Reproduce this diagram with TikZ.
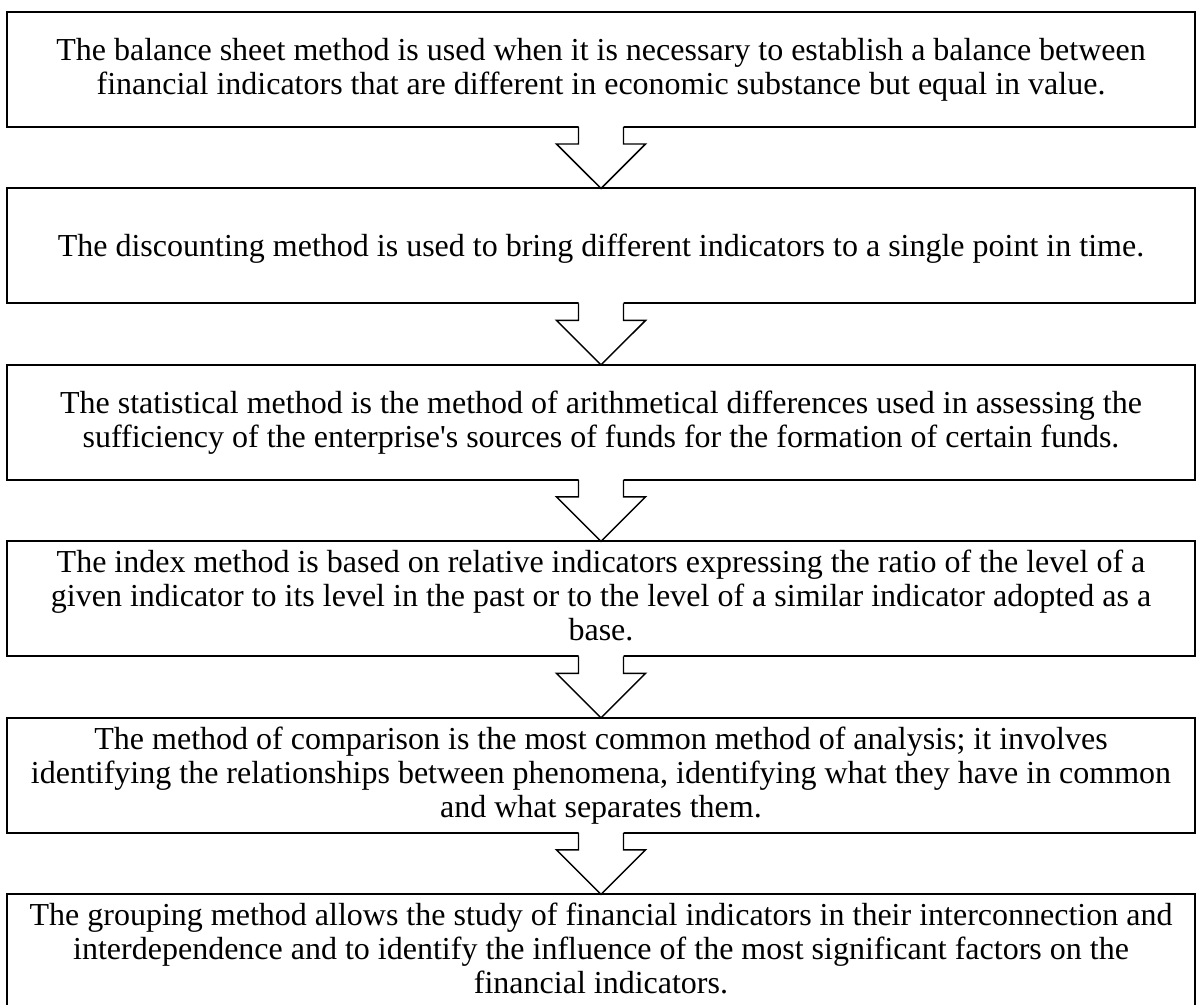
\documentclass[tikz,border=0pt]{standalone}
\usepackage{fontspec}
\setmainfont{Liberation Serif}
\usetikzlibrary{positioning,calc}

\newcommand{\methodstrut}{\rule[-0.2\baselineskip]{0pt}{\baselineskip}}
\tikzset{
  methodbox/.style={draw, line width=1.5pt, fill=white, inner sep=0pt, outer sep=0pt,
    minimum width=891pt, minimum height=86.25pt, align=center,
    font=\fontsize{24}{25.5}\selectfont,
    execute at begin node=\methodstrut, execute at end node=\methodstrut},
  arrowline/.style={line width=1.1pt}
}

% hollow block arrow from the bottom of one box to the top of the next
\newcommand{\methodarrow}[2]{%
  \fill[white] ($(#1.south)+(-22.5,-2)$) -- ++(0,19) -- ++(-22,0) -- (#2.north)
    -- ($(#1.south)+(44.5,17)$) -- ++(-22,0) -- ++(0,-19) -- cycle;
  \draw[arrowline] ($(#1.south)+(-22.5,0)$) -- ++(0,17) -- ++(-22,0) -- (#2.north)
    -- ($(#1.south)+(44.5,17)$) -- ++(-22,0) -- ++(0,-17);
}

\begin{document}
\begin{tikzpicture}[x=0.75pt, y=-0.75pt]
  \useasboundingbox (0,0) rectangle (1196,1005);
  \node[methodbox] (balance) at (601,69.5)
    {The balance sheet method is used when it is necessary to establish a balance between\\
     financial indicators that are different in economic substance but equal in value.};
  \node[methodbox, below=46.1pt of balance] (discount)
    {The discounting method is used to bring different indicators to a single point in time.};
  \node[methodbox, below=46.1pt of discount] (statistic)
    {The statistical method is the method of arithmetical differences used in assessing the\\
     sufficiency of the enterprise\textquotesingle s sources of funds for the formation of certain funds.};
  \node[methodbox, below=46.1pt of statistic] (index)
    {The index method is based on relative indicators expressing the ratio of the level of a\\
     given indicator to its level in the past or to the level of a similar indicator adopted as a\\
     base.};
  \node[methodbox, below=46.1pt of index] (compare)
    {The method of comparison is the most common method of analysis; it involves\\
     identifying the relationships between phenomena, identifying what they have in common\\
     and what separates them.};
  \node[methodbox, below=46.1pt of compare] (grouping)
    {The grouping method allows the study of financial indicators in their interconnection and\\
     interdependence and to identify the influence of the most significant factors on the\\
     financial indicators.};

  \foreach \a/\b in {balance/discount, discount/statistic, statistic/index,
                     index/compare, compare/grouping}
    {\methodarrow{\a}{\b}}
\end{tikzpicture}
\end{document}
